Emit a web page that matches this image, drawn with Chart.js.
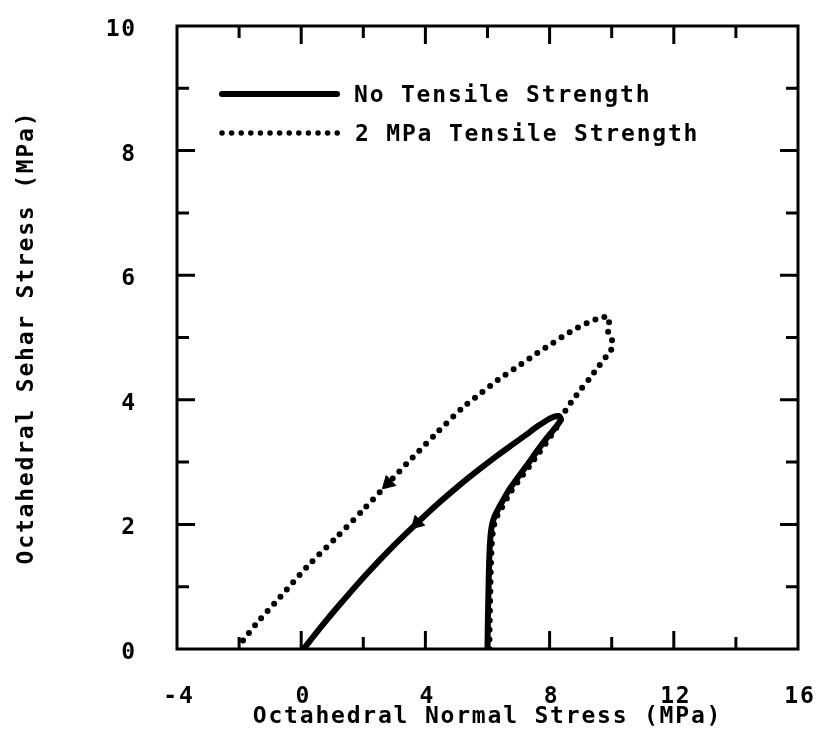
<!DOCTYPE html>
<html>
<head>
<meta charset="utf-8">
<title>Octahedral stress paths</title>
<script src="https://cdn.jsdelivr.net/npm/chart.js@4/dist/chart.umd.min.js"></script>
<style>
  html, body { margin: 0; padding: 0; background: #fff; }
  #c { display: block; }
</style>
</head>
<body>
<canvas id="c" width="816" height="747"></canvas>
<script>
// Axis tick values
const xTickLabels = [-4, 0, 4, 8, 12, 16];
const yTickLabels = [0, 2, 4, 6, 8, 10];
const xMajorTicks = [0, 4, 8, 12];
const xMinorTicks = [-2, 2, 6, 10, 14];
const yMajorTicks = [2, 4, 6, 8];
const yMinorTicks = [1, 3, 5, 7, 9];

// Stress path without tensile strength (MPa)
const noTensionX = [6.00, 6.01, 6.03, 6.05, 6.08, 6.13, 6.22, 6.38, 6.70, 7.00, 7.30, 7.60, 7.90, 8.18, 8.36,
                    8.30, 8.05, 7.60, 7.25, 6.80, 6.30, 5.70, 5.10, 4.40, 3.73, 2.90, 2.10, 1.20, 0.60, 0.08];
const noTensionY = [0.00, 0.40, 0.90, 1.35, 1.70, 1.95, 2.12, 2.28, 2.56, 2.77, 2.97, 3.18, 3.38, 3.55, 3.68,
                    3.74, 3.71, 3.57, 3.44, 3.28, 3.10, 2.87, 2.63, 2.33, 2.02, 1.62, 1.20, 0.69, 0.33, 0.00];

// Stress path with 2 MPa tensile strength (MPa)
const tensionX = [6.06, 6.07, 6.09, 6.11, 6.14, 6.19, 6.28, 6.44, 6.76, 7.06, 7.36, 7.66, 7.96, 8.24, 8.56,
                  8.76, 9.04, 9.30, 9.60, 9.80, 9.97, 10.04, 9.90, 9.88, 9.95, 9.72, 9.20, 8.66, 8.10, 7.60,
                  7.05, 6.34, 5.80, 5.21, 4.37, 3.60, 2.80, 1.99, 1.15, 0.19, -0.68, -1.42, -1.87, -2.00];
const tensionY = [0.00, 0.40, 0.90, 1.35, 1.70, 1.94, 2.10, 2.25, 2.53, 2.74, 2.94, 3.15, 3.36, 3.57, 3.87,
                  4.00, 4.19, 4.35, 4.55, 4.68, 4.79, 4.92, 5.05, 5.20, 5.30, 5.33, 5.23, 5.09, 4.91, 4.75,
                  4.56, 4.32, 4.11, 3.88, 3.47, 3.08, 2.66, 2.23, 1.80, 1.32, 0.83, 0.42, 0.14, 0.05];

// Direction arrows on the unloading branches
const arrowX = [3.73, 2.80];
const arrowY = [2.02, 2.66];

const seriesNames = ['No Tensile Strength', '2 MPa Tensile Strength'];

const FONT_FAMILY = '"DejaVu Sans Mono", "Liberation Mono", monospace';
const FONT_SIZE = 23;
const LETTER_SPACING = '1.8px';

const toPoints = (xs, ys) => xs.map((x, i) => ({ x: x, y: ys[i] }));

// Frame with inward ticks on all four sides
const framePlugin = {
  id: 'frame',
  beforeDraw(chart) {
    chart.ctx.letterSpacing = LETTER_SPACING;
  },
  beforeDatasetsDraw(chart) {
    const { ctx, chartArea: a, scales: { x, y } } = chart;
    ctx.save();
    ctx.strokeStyle = '#000';
    ctx.lineWidth = 3;
    ctx.lineCap = 'butt';
    ctx.strokeRect(a.left, a.top, a.right - a.left, a.bottom - a.top);
    const MAJOR = 18, MINOR = 12;
    ctx.beginPath();
    const xTick = (v, len) => {
      const px = x.getPixelForValue(v);
      ctx.moveTo(px, a.bottom); ctx.lineTo(px, a.bottom - len);
      ctx.moveTo(px, a.top); ctx.lineTo(px, a.top + len);
    };
    const yTick = (v, len) => {
      const py = y.getPixelForValue(v);
      ctx.moveTo(a.left, py); ctx.lineTo(a.left + len, py);
      ctx.moveTo(a.right, py); ctx.lineTo(a.right - len, py);
    };
    xMajorTicks.forEach(v => xTick(v, MAJOR));
    xMinorTicks.forEach(v => xTick(v, MINOR));
    yMajorTicks.forEach(v => yTick(v, MAJOR));
    yMinorTicks.forEach(v => yTick(v, MINOR));
    ctx.stroke();
    ctx.restore();
  }
};

// Legend drawn inside the plot area
const legendPlugin = {
  id: 'innerLegend',
  afterDraw(chart) {
    const ctx = chart.ctx;
    ctx.save();
    ctx.strokeStyle = '#000';
    ctx.lineWidth = 6;
    ctx.lineCap = 'round';
    ctx.beginPath();
    ctx.moveTo(222, 94); ctx.lineTo(337, 94);
    ctx.stroke();
    ctx.lineWidth = 5.5;
    ctx.setLineDash([0, 9.6]);
    ctx.beginPath();
    ctx.moveTo(222, 133); ctx.lineTo(338, 133);
    ctx.stroke();
    ctx.setLineDash([]);
    ctx.letterSpacing = LETTER_SPACING;
    ctx.fillStyle = '#000';
    ctx.font = 'bold ' + FONT_SIZE + 'px ' + FONT_FAMILY;
    ctx.textAlign = 'left';
    ctx.textBaseline = 'middle';
    ctx.fillText(seriesNames[0], 354, 96);
    ctx.fillText(seriesNames[1], 355, 135);
    ctx.restore();
  }
};

const tickFont = { family: FONT_FAMILY, size: FONT_SIZE, weight: 'bold' };

new Chart(document.getElementById('c'), {
  type: 'scatter',
  data: {
    datasets: [
      {
        label: seriesNames[0],
        data: toPoints(noTensionX, noTensionY),
        showLine: true,
        borderColor: '#000',
        borderWidth: 6,
        borderCapStyle: 'round',
        borderJoinStyle: 'round',
        tension: 0.25,
        pointRadius: 0,
        fill: false
      },
      {
        label: seriesNames[1],
        data: toPoints(tensionX, tensionY),
        showLine: true,
        borderColor: '#000',
        borderWidth: 6,
        borderDash: [0, 9.6],
        borderCapStyle: 'round',
        tension: 0.25,
        pointRadius: 0,
        fill: false
      },
      {
        label: 'arrows',
        data: toPoints(arrowX, arrowY),
        showLine: false,
        pointStyle: 'triangle',
        pointRadius: 8,
        rotation: 226,
        backgroundColor: '#000',
        borderColor: '#000',
        borderWidth: 1
      }
    ]
  },
  options: {
    responsive: false,
    animation: false,
    devicePixelRatio: 1,
    layout: { padding: { top: 26, right: 18, left: 0, bottom: 0 } },
    plugins: { legend: { display: false }, tooltip: { enabled: false } },
    scales: {
      x: {
        type: 'linear',
        min: -4,
        max: 16,
        grid: { display: false },
        border: { display: false },
        afterBuildTicks: s => { s.ticks = xTickLabels.map(v => ({ value: v })); },
        afterFit: s => { s.height = 98; s.paddingLeft = 0; s.paddingRight = 0; },
        ticks: {
          font: tickFont,
          color: '#000',
          padding: 26,
          labelOffset: 2,
          maxRotation: 0,
          autoSkip: false,
          callback: v => String(v)
        },
        title: {
          display: true,
          text: 'Octahedral Normal Stress (MPa)',
          font: tickFont,
          color: '#000',
          padding: { top: 4, bottom: 16 }
        }
      },
      y: {
        type: 'linear',
        min: 0,
        max: 10,
        grid: { display: false },
        border: { display: false },
        afterBuildTicks: s => { s.ticks = yTickLabels.map(v => ({ value: v })); },
        afterFit: s => { s.width = 177; s.paddingTop = 0; s.paddingBottom = 0; },
        ticks: {
          font: tickFont,
          color: '#000',
          padding: 32,
          labelOffset: 4,
          autoSkip: false,
          callback: v => String(v)
        },
        title: {
          display: true,
          text: 'Octahedral Sehar Stress (MPa)',
          font: tickFont,
          color: '#000',
          padding: { top: 13, bottom: 4 }
        }
      }
    }
  },
  plugins: [framePlugin, legendPlugin]
});
</script>
</body>
</html>
